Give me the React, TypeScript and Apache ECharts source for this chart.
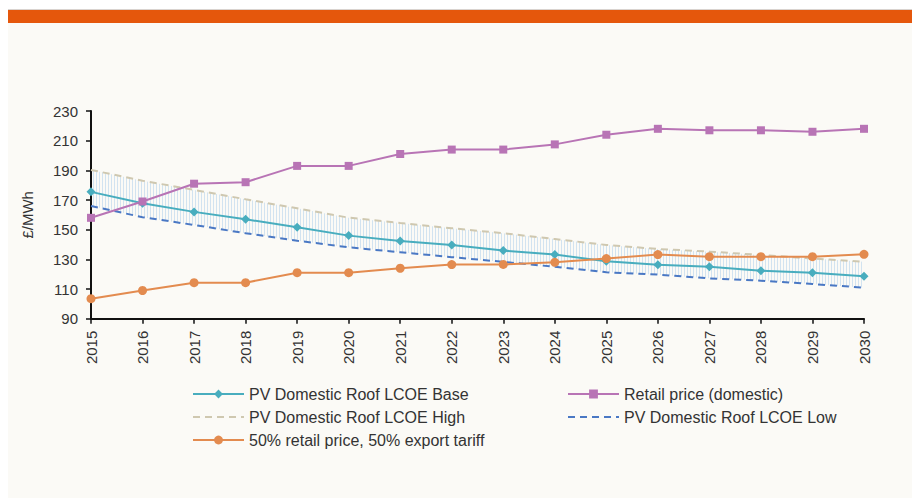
import React, { useEffect, useRef } from "react";
import * as echarts from "echarts";

const years = ["2015","2016","2017","2018","2019","2020","2021","2022","2023","2024","2025","2026","2027","2028","2029","2030"];
const baseLCOE = [175.5, 167.8, 162, 157, 151.6, 146, 142.4, 139.7, 135.9, 133.2, 128.7, 126.4, 125, 122.4, 121, 118.6];
const retailPrice = [158, 169, 181, 182, 193, 193, 201, 204, 204, 207.5, 214, 218, 217, 217, 216, 218];
const highLCOE = [190.3, 183, 176.8, 170.5, 164.4, 158.1, 154.5, 151, 147.6, 143.7, 139.7, 137, 135.2, 133, 130.5, 128.4];
const lowLCOE = [166, 158.4, 153.2, 147.6, 142.6, 138.1, 134.8, 131.5, 128.3, 125, 121.3, 119.7, 117.2, 115.6, 113.4, 110.9];
const blended = [103.5, 109, 114.3, 114.3, 121, 121, 124, 126.5, 126.6, 128, 130.5, 133.2, 131.8, 131.8, 131.8, 133.4];
const yTicks = [90, 110, 130, 150, 170, 190, 210, 230];

const NAME_BASE = "PV Domestic Roof LCOE Base";
const NAME_RETAIL = "Retail price (domestic)";
const NAME_HIGH = "PV Domestic Roof LCOE High";
const NAME_LOW = "PV Domestic Roof LCOE Low";
const NAME_BLEND = "50% retail price, 50% export tariff";

const FONT = "'Liberation Sans', Arial, sans-serif";

export default function App() {
  const ref = useRef<HTMLDivElement>(null);
  useEffect(() => {
    if (!ref.current) return;
    const chart = echarts.init(ref.current, null, { renderer: "svg" });

    const cv = document.createElement("canvas");
    cv.width = 3;
    cv.height = 3;
    const ctx = cv.getContext("2d");
    if (ctx) {
      ctx.fillStyle = "#d2e3f0";
      ctx.fillRect(0, 0, 1, 3);
    }

    const bandDiff = highLCOE.map((h, i) => +(h - lowLCOE[i]).toFixed(2));

    const legendCommon = {
      orient: "vertical",
      top: 386,
      padding: 0,
      itemWidth: 51,
      itemHeight: 11,
      itemGap: 7,
      textStyle: { fontSize: 16, color: "#333", fontFamily: FONT },
      selectedMode: false,
    };

    chart.setOption({
      animation: false,
      backgroundColor: "#ffffff",
      textStyle: { fontFamily: FONT },
      graphic: {
        elements: [
          { type: "rect", z: -100, shape: { x: 8, y: 9, width: 904, height: 489 }, style: { fill: "#fbfaf6" } },
          { type: "rect", z: -99, shape: { x: 8, y: 9, width: 904, height: 1 }, style: { fill: "#d9d3cf" } },
          { type: "rect", z: -98, shape: { x: 8, y: 10, width: 904, height: 13 }, style: { fill: "#e5570c" } },
        ],
      },
      grid: { left: 91, right: 48, top: 111, bottom: 179.3, containLabel: false },
      xAxis: {
        type: "category",
        data: years,
        boundaryGap: false,
        axisLine: { lineStyle: { color: "#111", width: 2 } },
        axisTick: { alignWithLabel: true, length: 5, lineStyle: { color: "#111", width: 1.5 } },
        axisLabel: { rotate: 90, fontSize: 15, color: "#333", margin: 12, fontFamily: FONT },
        splitLine: { show: false },
      },
      yAxis: {
        type: "value",
        min: yTicks[0],
        max: yTicks[yTicks.length - 1],
        interval: 20,
        name: "£/MWh",
        nameLocation: "middle",
        nameGap: 56,
        nameTextStyle: { fontSize: 15, color: "#333", fontFamily: FONT },
        axisLine: { show: true, lineStyle: { color: "#111", width: 2 } },
        axisTick: { show: true, length: 5, lineStyle: { color: "#111", width: 1.5 } },
        axisLabel: { fontSize: 15, color: "#333", margin: 13, fontFamily: FONT },
        splitLine: { show: false },
      },
      legend: [
        {
          ...legendCommon,
          left: 192,
          data: [
            { name: NAME_BASE },
            { name: NAME_HIGH, itemStyle: { opacity: 0 } },
            { name: NAME_BLEND },
          ],
        },
        {
          ...legendCommon,
          left: 567,
          data: [
            { name: NAME_RETAIL },
            { name: NAME_LOW, itemStyle: { opacity: 0 } },
          ],
        },
      ],
      series: [
        {
          name: "bandBase",
          type: "line",
          data: lowLCOE,
          stack: "band",
          symbol: "none",
          silent: true,
          lineStyle: { opacity: 0 },
          z: 1,
        },
        {
          name: "band",
          type: "line",
          data: bandDiff,
          stack: "band",
          symbol: "none",
          silent: true,
          lineStyle: { opacity: 0 },
          areaStyle: { color: { image: cv, repeat: "repeat" }, opacity: 1 },
          z: 1,
        },
        {
          name: NAME_HIGH,
          type: "line",
          data: highLCOE,
          symbol: "none",
          color: "#cfc8b0",
          lineStyle: { color: "#cfc8b0", width: 2, type: [7, 5] },
          z: 2,
        },
        {
          name: NAME_LOW,
          type: "line",
          data: lowLCOE,
          symbol: "none",
          color: "#4a78c4",
          lineStyle: { color: "#4a78c4", width: 2, type: [7, 5] },
          z: 2,
        },
        {
          name: NAME_BASE,
          type: "line",
          data: baseLCOE,
          symbol: "diamond",
          symbolSize: 9,
          color: "#48adbe",
          lineStyle: { color: "#48adbe", width: 2 },
          itemStyle: { color: "#48adbe" },
          z: 3,
        },
        {
          name: NAME_RETAIL,
          type: "line",
          data: retailPrice,
          symbol: "rect",
          symbolSize: 8,
          color: "#b874b5",
          lineStyle: { color: "#b874b5", width: 2 },
          itemStyle: { color: "#b874b5" },
          z: 3,
        },
        {
          name: NAME_BLEND,
          type: "line",
          data: blended,
          symbol: "circle",
          symbolSize: 9,
          color: "#e38b4f",
          lineStyle: { color: "#e38b4f", width: 2 },
          itemStyle: { color: "#e38b4f" },
          z: 4,
        },
      ],
    });
    return () => chart.dispose();
  }, []);
  return (
    <div
      ref={ref}
      style={{ position: "fixed", left: 0, top: 0, width: 912, height: 498 }}
    />
  );
}
